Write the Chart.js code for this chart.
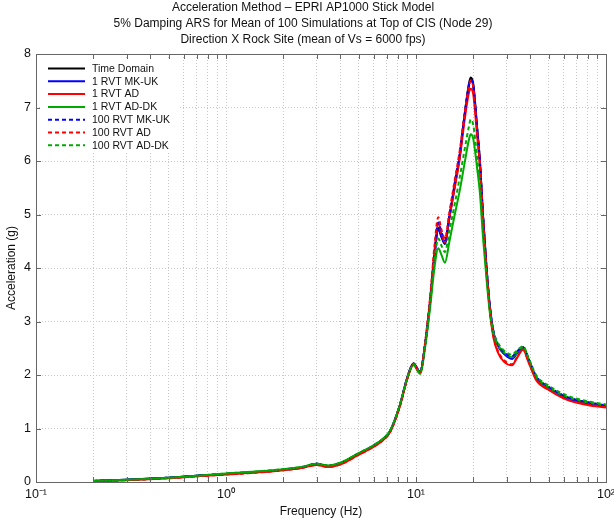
<!DOCTYPE html>
<html lang="en">
<head>
    <meta charset="UTF-8" />
    <title>Acceleration Method - EPRI AP1000 Stick Model</title>
    <style>
        body { margin: 0; padding: 0; background: #fff; }
        #wrap { width: 614px; height: 523px; }
    </style>
    <script src="https://cdn.jsdelivr.net/npm/chart.js"></script>
</head>
<body>
    <div id="wrap"><canvas id="ars" width="614" height="523"></canvas></div>

    <script>
        // Frequencies (Hz), shared by every curve
        const freq = [0.2, 0.3, 0.5, 0.73, 1.0, 1.5, 2.0, 2.5, 3.0, 3.45, 4.0, 5.0, 6.0, 6.7, 7.3, 8.2, 9.0, 9.7, 10.5, 11.2,
            11.9, 12.5, 13.1, 13.6, 14.2, 15.0, 16.0, 17.0, 18.0, 19.0, 19.4, 20.0, 21.0, 21.7, 22.5, 23.5, 24.5, 25.5,
            27.0, 29.0, 32.0, 34.0, 36.6, 39.0, 43.0, 50.0, 62.0, 80.0, 100];

        // Spectral acceleration (g)
        const timeDomain = [0.02, 0.04, 0.08, 0.12, 0.15, 0.19, 0.23, 0.27, 0.34, 0.30, 0.35, 0.53, 0.68, 0.80, 0.95, 1.42, 1.95, 2.22, 2.06, 2.60,
            3.40, 4.20, 4.75, 4.60, 4.45, 4.95, 5.55, 6.10, 6.85, 7.45, 7.56, 7.45, 6.60, 6.00, 5.00, 4.00, 3.25, 2.80,
            2.55, 2.40, 2.32, 2.42, 2.52, 2.30, 1.95, 1.76, 1.58, 1.48, 1.42];
        const rvt1MkUk = [0.02, 0.04, 0.08, 0.12, 0.15, 0.19, 0.23, 0.27, 0.34, 0.30, 0.35, 0.53, 0.68, 0.80, 0.95, 1.42, 1.95, 2.21, 2.05, 2.60,
            3.40, 4.20, 4.72, 4.58, 4.45, 4.95, 5.55, 6.10, 6.83, 7.42, 7.52, 7.42, 6.58, 5.98, 5.00, 4.00, 3.27, 2.82,
            2.55, 2.40, 2.30, 2.40, 2.50, 2.30, 1.95, 1.76, 1.57, 1.47, 1.41];
        const rvt1Ad = [0.02, 0.035, 0.07, 0.11, 0.14, 0.18, 0.22, 0.26, 0.32, 0.28, 0.33, 0.51, 0.66, 0.78, 0.93, 1.40, 1.93, 2.20, 2.04, 2.62,
            3.45, 4.30, 4.83, 4.65, 4.48, 4.95, 5.50, 6.05, 6.75, 7.28, 7.35, 7.25, 6.45, 5.90, 4.95, 3.95, 3.20, 2.72,
            2.42, 2.25, 2.18, 2.32, 2.47, 2.25, 1.90, 1.72, 1.54, 1.44, 1.39];
        const rvt1AdDk = [0.02, 0.04, 0.08, 0.12, 0.16, 0.20, 0.24, 0.28, 0.34, 0.31, 0.36, 0.54, 0.69, 0.81, 0.96, 1.42, 1.93, 2.18, 2.02, 2.55,
            3.30, 4.00, 4.37, 4.25, 4.10, 4.50, 5.00, 5.45, 5.95, 6.40, 6.50, 6.42, 5.85, 5.40, 4.60, 3.80, 3.15, 2.78,
            2.55, 2.42, 2.33, 2.42, 2.52, 2.30, 1.96, 1.77, 1.59, 1.49, 1.43];
        const rvt100MkUk = [0.02, 0.04, 0.08, 0.12, 0.15, 0.19, 0.23, 0.27, 0.34, 0.30, 0.35, 0.53, 0.68, 0.80, 0.95, 1.42, 1.95, 2.21, 2.06, 2.62,
            3.45, 4.28, 4.85, 4.68, 4.52, 5.00, 5.60, 6.15, 6.85, 7.40, 7.50, 7.40, 6.58, 5.98, 5.00, 4.02, 3.28, 2.84,
            2.58, 2.43, 2.35, 2.44, 2.52, 2.32, 1.97, 1.78, 1.59, 1.49, 1.43];
        const rvt100Ad = [0.02, 0.035, 0.07, 0.11, 0.14, 0.18, 0.22, 0.26, 0.32, 0.28, 0.33, 0.51, 0.66, 0.78, 0.93, 1.40, 1.93, 2.20, 2.04, 2.65,
            3.50, 4.40, 4.95, 4.72, 4.55, 5.05, 5.65, 6.20, 6.88, 7.40, 7.50, 7.38, 6.55, 5.95, 4.98, 3.98, 3.22, 2.75,
            2.45, 2.28, 2.20, 2.33, 2.48, 2.26, 1.92, 1.73, 1.55, 1.45, 1.40];
        const rvt100AdDk = [0.02, 0.04, 0.08, 0.12, 0.16, 0.20, 0.24, 0.28, 0.34, 0.31, 0.36, 0.54, 0.69, 0.81, 0.96, 1.43, 1.95, 2.20, 2.04, 2.58,
            3.38, 4.12, 4.55, 4.42, 4.30, 4.70, 5.20, 5.70, 6.20, 6.65, 6.78, 6.68, 6.05, 5.55, 4.72, 3.88, 3.20, 2.82,
            2.60, 2.46, 2.38, 2.46, 2.54, 2.33, 1.99, 1.80, 1.62, 1.51, 1.45];

        // Axis ticks
        const xTicks = [0.1, 0.2, 0.3, 0.4, 0.5, 0.6, 0.7, 0.8, 0.9, 1, 2, 3, 4, 5, 6, 7, 8, 9, 10, 20, 30, 40, 50, 60, 70, 80, 90, 100];
        const xTickLabels = { 0.1: '10\u207B\u00B9', 1: '10\u2070', 10: '10\u00B9', 100: '10\u00B2' };
        const yTicks = [0, 1, 2, 3, 4, 5, 6, 7, 8];

        const titleLines = [
            'Acceleration Method \u2013 EPRI AP1000 Stick Model',
            '5% Damping ARS for Mean of 100 Simulations at Top of CIS (Node 29)',
            'Direction X Rock Site (mean of Vs = 6000 fps)'
        ];

        const GREEN = '#00aa00';
        const FONT = '"Liberation Sans", Arial, sans-serif';

        function pts(vals) {
            return freq.map((f, i) => ({ x: f, y: vals[i] }));
        }

        function series(label, vals, color, dashed, order) {
            return {
                label: label,
                data: pts(vals),
                borderColor: color,
                backgroundColor: color,
                borderWidth: 2,
                borderDash: dashed ? [4, 3] : [],
                pointRadius: 0,
                cubicInterpolationMode: 'monotone',
                order: order
            };
        }

        // MATLAB style inward ticks on all four sides, plus the box
        const axisBox = {
            id: 'axisBox',
            afterDatasetsDraw(chart) {
                const { ctx, chartArea: a, scales: { x, y } } = chart;
                ctx.save();
                ctx.strokeStyle = '#666';
                ctx.lineWidth = 1;
                ctx.beginPath();
                xTicks.forEach(v => {
                    const px = Math.round(x.getPixelForValue(v)) + 0.5;
                    ctx.moveTo(px, a.bottom); ctx.lineTo(px, a.bottom - 5);
                    ctx.moveTo(px, a.top); ctx.lineTo(px, a.top + 5);
                });
                yTicks.forEach(v => {
                    const py = Math.round(y.getPixelForValue(v)) + 0.5;
                    ctx.moveTo(a.left, py); ctx.lineTo(a.left + 5, py);
                    ctx.moveTo(a.right, py); ctx.lineTo(a.right - 5, py);
                });
                ctx.stroke();
                ctx.strokeRect(Math.round(a.left) + 0.5, Math.round(a.top) + 0.5,
                    Math.round(a.right - a.left), Math.round(a.bottom - a.top));
                ctx.restore();
            }
        };

        // Legend drawn inside the plot (top left), white box behind
        const innerLegend = {
            id: 'innerLegend',
            afterDatasetsDraw(chart) {
                const { ctx, chartArea: a } = chart;
                const dsets = chart.data.datasets;
                ctx.save();
                ctx.fillStyle = '#fff';
                ctx.fillRect(a.left + 4, a.top + 6, 138, 93);
                ctx.font = '10.5px ' + FONT;
                ctx.textBaseline = 'middle';
                ctx.textAlign = 'left';
                dsets.forEach((ds, i) => {
                    const yy = a.top + 14.5 + i * 12.8;
                    ctx.strokeStyle = ds.borderColor;
                    ctx.lineWidth = ds.borderWidth;
                    ctx.setLineDash(ds.borderDash);
                    ctx.beginPath();
                    ctx.moveTo(a.left + 12, yy);
                    ctx.lineTo(a.left + 49, yy);
                    ctx.stroke();
                    ctx.setLineDash([]);
                    ctx.fillStyle = '#111';
                    ctx.fillText(ds.label, a.left + 56, yy + 0.5);
                });
                ctx.restore();
            }
        };

        new Chart(document.getElementById('ars').getContext('2d'), {
            type: 'line',
            data: {
                datasets: [
                    series('Time Domain', timeDomain, '#000000', false, 7),
                    series('1 RVT MK-UK', rvt1MkUk, '#0000ff', false, 6),
                    series('1 RVT AD', rvt1Ad, '#ff0000', false, 5),
                    series('1 RVT AD-DK', rvt1AdDk, GREEN, false, 4),
                    series('100 RVT MK-UK', rvt100MkUk, '#0000ff', true, 3),
                    series('100 RVT AD', rvt100Ad, '#ff0000', true, 2),
                    series('100 RVT AD-DK', rvt100AdDk, GREEN, true, 1)
                ]
            },
            options: {
                responsive: false,
                animation: false,
                layout: { padding: { top: 0, right: 8, bottom: 0, left: 0 } },
                plugins: {
                    legend: { display: false },
                    tooltip: { enabled: false },
                    title: {
                        display: true,
                        text: titleLines,
                        color: '#111',
                        font: { family: FONT, size: 12, weight: 'normal', lineHeight: 16 / 12 },
                        padding: { top: 0, bottom: 6 }
                    }
                },
                scales: {
                    x: {
                        type: 'logarithmic',
                        min: 0.1,
                        max: 100,
                        afterBuildTicks: s => { s.ticks = xTicks.map(v => ({ value: v })); },
                        afterFit: s => { s.height = 41; s.paddingLeft = 0; s.paddingRight = 0; },
                        ticks: {
                            autoSkip: false,
                            maxRotation: 0,
                            padding: 5,
                            color: '#111',
                            font: { family: FONT, size: 12.5 },
                            callback: v => xTickLabels[v] || ''
                        },
                        grid: { color: '#c8c8c8', lineWidth: 1, drawTicks: false },
                        border: { display: false, dash: [1, 2] },
                        title: {
                            display: true,
                            text: 'Frequency (Hz)',
                            color: '#111',
                            font: { family: FONT, size: 12 },
                            padding: { top: 2, bottom: 4 }
                        }
                    },
                    y: {
                        min: 0,
                        max: 8,
                        afterBuildTicks: s => { s.ticks = yTicks.map(v => ({ value: v })); },
                        afterFit: s => { s.width = 36; },
                        ticks: {
                            padding: 5,
                            color: '#111',
                            font: { family: FONT, size: 12.5 }
                        },
                        grid: { color: '#c8c8c8', lineWidth: 1, drawTicks: false },
                        border: { display: false, dash: [1, 2] },
                        title: {
                            display: true,
                            text: 'Acceleration (g)',
                            color: '#111',
                            font: { family: FONT, size: 12 },
                            padding: { top: 4, bottom: 0 }
                        }
                    }
                }
            },
            plugins: [axisBox, innerLegend]
        });
    </script>
</body>
</html>
